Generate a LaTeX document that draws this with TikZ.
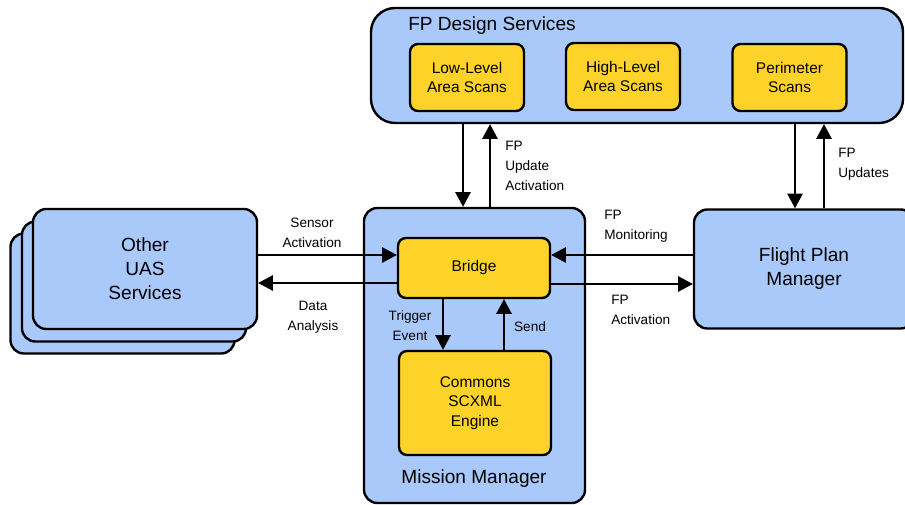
\documentclass[tikz,border=0pt]{standalone}
\usepackage{fontspec}
\setmainfont{Liberation Sans}
\usetikzlibrary{arrows.meta}
\definecolor{boxblue}{RGB}{168,201,250}
\definecolor{boxyellow}{RGB}{253,211,42}
\begin{document}
\begin{tikzpicture}[x=0.75pt, y=-0.75pt,
  outerbox/.style={draw, line width=1.8pt, fill=boxblue, rounded corners=10pt, inner sep=0pt, align=center, font=\fontsize{14.3}{18}\selectfont},
  innerbox/.style={draw, line width=1.8pt, fill=boxyellow, rounded corners=6pt, inner sep=0pt, align=center, minimum width=85.5pt, minimum height=50.25pt, font=\fontsize{11.6}{14.6}\selectfont},
  boxtitle/.style={inner sep=0pt, font=\fontsize{14.3}{18}\selectfont},
  lbl/.style={inner sep=0pt, font=\fontsize{10.2}{15}\selectfont},
  arr/.style={line width=1.2pt, -{Triangle[length=11pt,width=11.5pt]}}]
\useasboundingbox (0,0) rectangle (905,505);
\node[outerbox, minimum width=399pt, minimum height=86.25pt, rounded corners=18pt] (fpds) at (637,65.5){};
\node[boxtitle, anchor=west] (fpdstitle) at (408,26){FP Design Services};
\node[innerbox] (lowscan) at (467,77.5){Low-Level\\Area Scans};
\node[innerbox] (highscan) at (623,76.5){High-Level\\Area Scans};
\node[innerbox] (perscan) at (789.5,77.5){Perimeter\\Scans};
\node[outerbox, minimum width=165.75pt, minimum height=221.25pt] (mm) at (474.5,355.5){};
\node[boxtitle] (mmtitle) at (474,479){Mission Manager};
\node[innerbox, minimum width=114pt, minimum height=45pt] (bridge) at (474,268){Bridge};
\node[innerbox, minimum width=114pt, minimum height=78pt] (engine) at (475,403){Commons\\SCXML\\Engine};
\node[outerbox, minimum width=168pt, minimum height=90pt] (uas3) at (122.5,293.5){};
\node[outerbox, minimum width=168pt, minimum height=90pt] (uas2) at (134,281.5){};
\node[outerbox, minimum width=168pt, minimum height=90pt] (uas1) at (145,269){Other\\UAS\\Services};
\node[outerbox, minimum width=165pt, minimum height=89.25pt] (fpm) at (804,269){Flight Plan\\Manager};
\draw[arr] (fpds.south -| 463,0) -- (mm.north -| 463,0);
\draw[arr] (mm.north -| 490,0) -- (fpds.south -| 490,0);
\draw[arr] (fpds.south -| 795,0) -- (fpm.north -| 795,0);
\draw[arr] (fpm.north -| 824,0) -- (fpds.south -| 824,0);
\draw[arr] (uas1.east |- 0,255) -- (bridge.west |- 0,255);
\draw[arr] (bridge.west |- 0,283) -- (uas1.east |- 0,283);
\draw[arr] (fpm.west |- 0,255) -- (bridge.east |- 0,255);
\draw[arr] (bridge.east |- 0,284) -- (fpm.west |- 0,284);
\draw[arr] (bridge.south -| 443,0) -- (engine.north -| 443,0);
\draw[arr] (engine.north -| 504,0) -- (bridge.south -| 504,0);
\node[lbl, anchor=west, align=left] (updlbl) at (505,166){FP\\Update\\Activation};
\node[lbl, anchor=west, align=left] (fpupdlbl) at (838,164.5){FP\\Updates};
\node[lbl, align=center] (senslbl) at (312,233){Sensor\\Activation};
\node[lbl, align=center] (datalbl) at (313,317){Data\\Analysis};
\node[lbl, align=center] (triglbl) at (410,326){Trigger\\Event};
\node[lbl] (sendlbl) at (530,327){Send};
\node[lbl, anchor=west, align=left] (monlbl) at (604,226){FP\\Monitoring};
\node[lbl, anchor=west, align=left] (actlbl) at (611,310){FP\\Activation};
\end{tikzpicture}
\end{document}
